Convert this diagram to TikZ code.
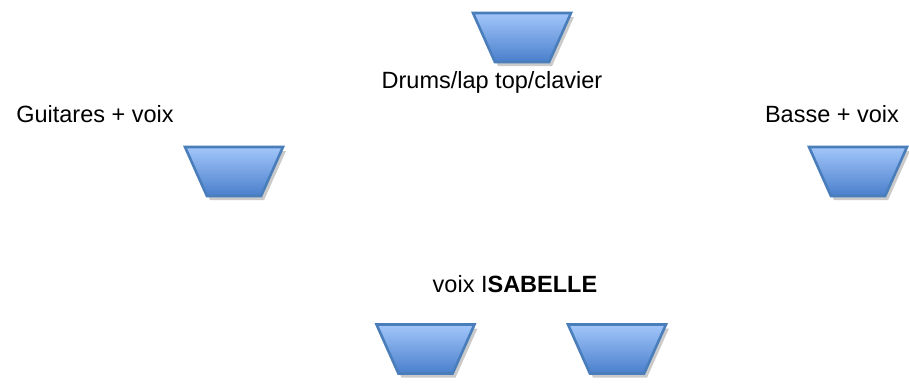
\documentclass[tikz,border=0pt]{standalone}
\usepackage{fontspec}
\setmainfont{Liberation Sans}
\usetikzlibrary{shapes.geometric,shadows}
\definecolor{bacTop}{HTML}{A2C6FA}
\definecolor{bacBot}{HTML}{4A7FCC}
\definecolor{bacLine}{HTML}{4A7EBB}
\tikzset{
  bac/.style={trapezium, trapezium stretches=true, trapezium angle=68,
    shape border rotate=180, minimum width=98pt, minimum height=49pt,
    draw=bacLine, line width=2.6pt, top color=bacTop, bottom color=bacBot,
    drop shadow={shadow xshift=3pt, shadow yshift=-4pt, opacity=0.35, fill=black!60}},
  lbl/.style={anchor=base, inner sep=0pt, font=\fontsize{23.5}{28}\selectfont}
}
\begin{document}
\begin{tikzpicture}[x=1pt,y=-1pt]
  \useasboundingbox (0,0) rectangle (909,384);
  % retours
  \node[bac] (drums) at (522,37.5) {};
  \node[bac] (guit) at (234,171.5) {};
  \node[bac] (basse) at (858,171.5) {};
  \node[bac] (isaG) at (425.5,349) {};
  \node[bac] (isaD) at (617,349) {};
  % textes
  \node[lbl] (tDrums) at (492,88) {Drums/lap top/clavier};
  \node[lbl] (tGuit) at (95,122) {Guitares + voix};
  \node[lbl] (tBasse) at (832,122) {Basse + voix};
  \node[lbl] (tIsa) at (515,292) {voix I\textbf{SABELLE}};
\end{tikzpicture}
\end{document}
